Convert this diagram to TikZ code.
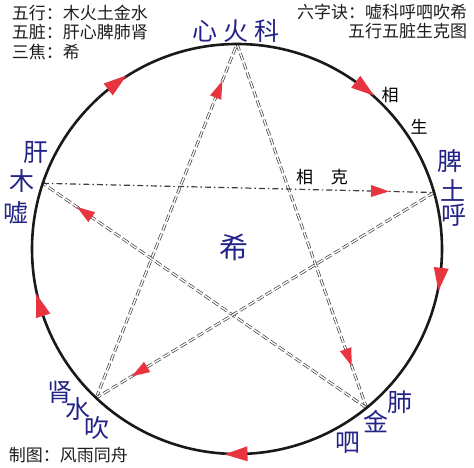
\documentclass[tikz,border=0pt]{standalone}
\usepackage{fontspec}
\setmainfont{Noto Sans CJK SC}
\usetikzlibrary{shapes.geometric}
\definecolor{labblue}{RGB}{36,36,135}
\definecolor{arrred}{RGB}{232,52,62}
\definecolor{txtgray}{RGB}{30,30,30}
\definecolor{dashgray}{RGB}{60,60,60}
\begin{document}
\begin{tikzpicture}[x=1pt,y=1pt,
  every node/.style={inner sep=0pt, outer sep=0pt},
  ring/.style={line width=2.6pt, draw=black!90},
  keline/.style={draw=dashgray, double=white, double distance=1.4pt, line width=0.7pt, dash pattern=on 7pt off 3pt},
  kelinetwo/.style={draw=dashgray, line width=1.2pt, dash pattern=on 6pt off 3pt on 1.5pt off 3pt},
  ringtri/.style={isosceles triangle, isosceles triangle stretches, fill=arrred, minimum height=23pt, minimum width=15pt, inner sep=0pt},
  startri/.style={isosceles triangle, isosceles triangle stretches, fill=arrred, minimum height=18pt, minimum width=12pt, inner sep=0pt, sloped, allow upside down},
  lab/.style={text=labblue, font=\fontsize{25}{25}\selectfont},
  note/.style={text=txtgray, font=\fontsize{17}{19.5}\selectfont},
  smalltxt/.style={text=black, font=\fontsize{17}{17}\selectfont}
]
\useasboundingbox (0,0) rectangle (474,467);
\coordinate (c) at (237,218);
\coordinate (fire)  at ([shift={(90:205)}]c);
\coordinate (earth) at ([shift={(16:205)}]c);
\coordinate (metal) at ([shift={(-50.8:205)}]c);
\coordinate (water) at ([shift={(-133.4:205)}]c);
\coordinate (wood)  at ([shift={(161.3:205)}]c);

% star (ke) lines
\draw[keline] (water) -- (fire);
\draw[keline] (fire) -- (metal);
\draw[keline] (metal) -- (wood);
\draw[kelinetwo] (wood) -- (earth);
\draw[keline] (earth) -- (water);

% ring (sheng)
\draw[ring] (c) circle[radius=205];

% ring arrows (clockwise)
\node[ringtri, rotate=37.4]   (a1) at ([shift={(127.4:205)}]c) {};
\node[ringtri, rotate=-36.9]  (a2) at ([shift={(53.1:205)}]c) {};
\node[ringtri, rotate=-96.8]  (a3) at ([shift={(-6.8:205)}]c) {};
\node[ringtri, rotate=-178.6] (a4) at ([shift={(-88.6:205)}]c) {};
\node[ringtri, rotate=107.5]  (a5) at ([shift={(-162.5:205)}]c) {};

% star arrows
\path (water) -- node[startri, pos=0.86] (k1) {} (fire);
\path (wood) -- node[startri, pos=0.85] (k2) {} (earth);
\path (metal) -- node[startri, pos=0.86] (k3) {} (wood);
\path (earth) -- node[startri, pos=0.86] (k4) {} (water);
\path (fire) -- node[startri, pos=0.85] (k5) {} (metal);

% corner texts
\node[note, anchor=west] (t1) at (12,454) {五行：木火土金水};
\node[note, anchor=west] (t2) at (12,435) {五脏：肝心脾肺肾};
\node[note, anchor=west] (t3) at (12,415) {三焦：希};
\node[note, anchor=east] (t4) at (467,455) {六字诀：嘘科呼呬吹希};
\node[note, anchor=east] (t5) at (467,436) {五行五脏生克图};
\node[note, anchor=west] (t6) at (9,12) {制图：风雨同舟};

% relation labels
\node[smalltxt] (s1) at (390,372) {相};
\node[smalltxt] (s2) at (419,340) {生};
\node[smalltxt] (s3) at (322,290) {相\hspace{18pt}克};

% element labels
\node[lab] (l1) at (236,436) {心\hspace{6pt}火\hspace{6pt}科};
\node[lab] (l2) at (36,315) {肝};
\node[lab] (l3) at (22,286) {木};
\node[lab] (l4) at (16,254) {嘘};
\node[lab] (l5) at (450,306) {脾};
\node[lab] (l6) at (453,277) {土};
\node[lab] (l7) at (454,252) {呼};
\node[lab] (l8) at (60,75) {肾};
\node[lab] (l9) at (78,58) {水};
\node[lab] (l10) at (97,39) {吹};
\node[lab] (l11) at (400,65) {肺};
\node[lab] (l12) at (376,45) {金};
\node[lab] (l13) at (348,24) {呬};
\node[lab, font=\fontsize{29}{29}\selectfont] (l14) at (234,220) {希};
\end{tikzpicture}
\end{document}
